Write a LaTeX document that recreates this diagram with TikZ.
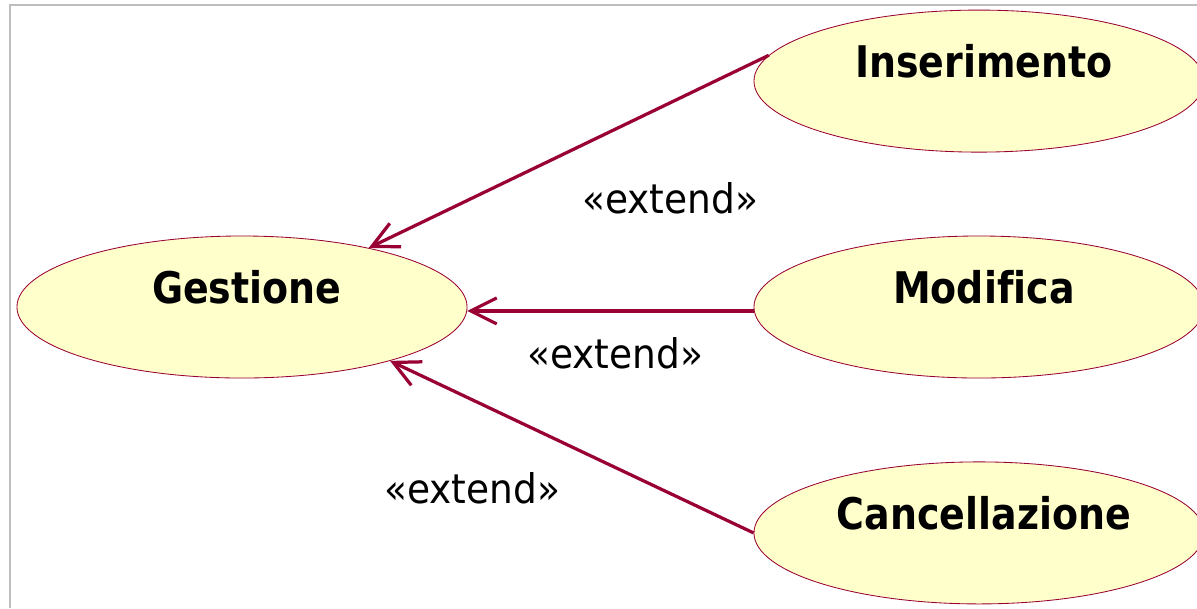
\documentclass[tikz,border=0pt]{standalone}
\usepackage{fontspec}
\setmainfont{DejaVu Sans}
\newfontfamily\ucfont[FakeStretch=0.87, Ligatures=NoCommon]{DejaVu Sans}
\newfontfamily\stereofont[FakeStretch=0.92]{DejaVu Sans}
\usepackage{xcolor}
\usepackage{tikz}
\usetikzlibrary{arrows.meta,positioning,shapes.geometric}
\definecolor{umlred}{RGB}{153,0,51}
\definecolor{ucfill}{RGB}{255,255,204}
\definecolor{framegrey}{RGB}{190,190,190}

\begin{document}
\begin{tikzpicture}[
    x=0.025cm, y=-0.025cm,
    node distance=2.075cm and 7.15cm,
    usecase/.style={ellipse, draw=umlred, line width=0.6pt, fill=ucfill, minimum width=11.25cm, minimum height=3.55cm, inner sep=0pt},
    ucname/.style={anchor=base, xshift=0.12cm, yshift=0.08cm, font=\ucfont\bfseries\fontsize{31}{36}\selectfont},
    stereo/.style={anchor=base, font=\stereofont\fontsize{29}{34}\selectfont},
    extarrow/.style={-{Straight Barb[length=0.65cm, width=0.65cm]}, line width=2.3pt, draw=umlred}
]
    \useasboundingbox (0,0) rectangle (1197,608);
    \draw[framegrey, line width=1pt] (1197,5) -- (10,5) -- (10,608);

    \node[usecase] (gest) at (242,307) {};
    \node[usecase, right=of gest] (mod) {};
    \node[usecase, above=of mod] (ins) {};
    \node[usecase, below=of mod] (canc) {};

    \node[ucname] (gest-name) at (gest) {Gestione};
    \node[ucname] (mod-name) at (mod) {Modifica};
    \node[ucname] (ins-name) at (ins) {Inserimento};
    \node[ucname] (canc-name) at (canc) {Cancellazione};

    \draw[extarrow] (ins.173) -- (gest.25);
    \draw[extarrow] (mod.181) -- (gest.-1);
    \draw[extarrow] (canc.west) -- (gest.-20);

    \node[stereo] (ext-ins) at (670,213) {«extend»};
    \node[stereo] (ext-mod) at (615,368) {«extend»};
    \node[stereo] (ext-canc) at (472,503) {«extend»};
\end{tikzpicture}
\end{document}
